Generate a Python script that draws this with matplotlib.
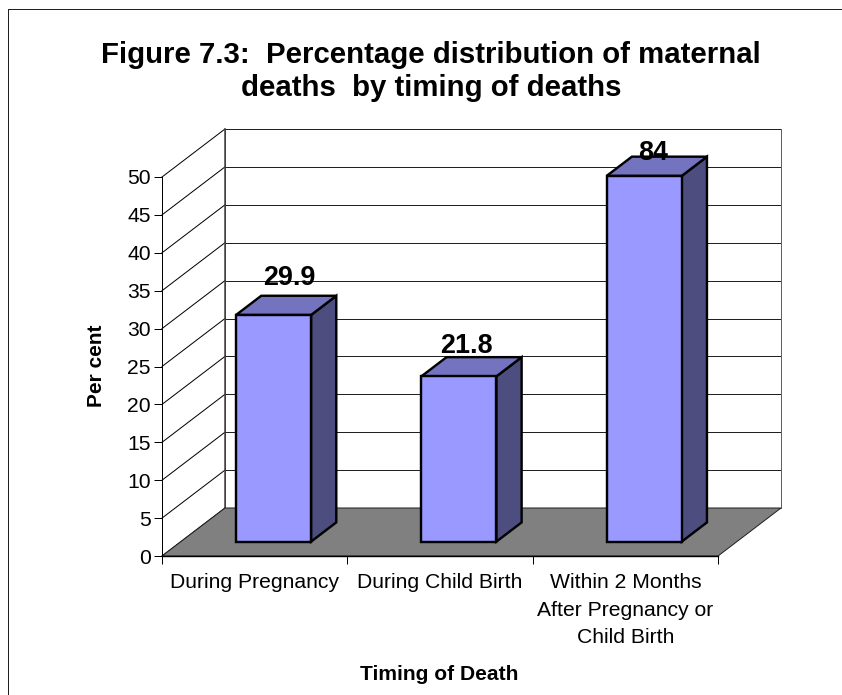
import matplotlib
matplotlib.use('Agg')
import matplotlib.pyplot as plt
from matplotlib.lines import Line2D
from matplotlib.patches import Polygon

title = 'Figure 7.3:  Percentage distribution of maternal\ndeaths  by timing of deaths'
categories = ['During Pregnancy', 'During Child Birth', 'Within 2 Months\nAfter Pregnancy or\nChild Birth']
values = [29.9, 21.8, 84]
y_ticks = [0, 5, 10, 15, 20, 25, 30, 35, 40, 45, 50]
x_ticks = [0, 1, 2, 3]

W, H = 842, 695
fig = plt.figure(figsize=(W / 100, H / 100), dpi=100)
plt.rcParams['font.family'] = ['Liberation Sans']
px = 1 / 100 * 72  # one pixel in points

# front plane of the chart box
ax = fig.add_axes([162 / W, 1 - 556 / H, 556 / W, 379 / H])
ax.set_xlim(0, 3)
ax.set_ylim(0, 50)
ax.patch.set_alpha(0)

# oblique depth of the box, in data units
dx = 63 / (556 / 3)
dy = 48 / (379 / 50)
bar_w = 0.405
d0, d1 = 0.3, 0.7
top_cap = 48.25  # tall bar is cut off here


def pt(x, y, d):
    return (x + d * dx, y + d * dy)


def poly(points, color, lw, ec='black', z=2):
    ax.add_patch(Polygon(points, closed=True, fc=color, ec=ec, lw=lw * px, clip_on=False,
                         zorder=z, joinstyle='miter'))


def line(a, b, color='black', lw=1.0, z=1):
    ax.add_line(Line2D([a[0], b[0]], [a[1], b[1]], color=color, lw=lw * px, clip_on=False, zorder=z))


# walls and floor
poly([pt(0, 0, 1), pt(3, 0, 1), pt(3, 50, 1), pt(0, 50, 1)], 'white', 1.0, ec='#404040', z=0.5)
poly([pt(0, 0, 0), pt(3, 0, 0), pt(3, 0, 1), pt(0, 0, 1)], '#808080', 1.0, ec='#202020', z=1.2)
for t in y_ticks:
    line(pt(0, t, 0), pt(0, t, 1))
    line(pt(0, t, 1), pt(3, t, 1), color='#202020')
line(pt(0, 0, 1), pt(0, 50, 1), color='#404040', lw=1.5)
line(pt(3, 0, 1), pt(3, 50, 1), color='#606060', lw=1.0)

# bars
label_off = [(16, 37), (8, 30), (8.5, 23)]
for i, v in enumerate(values):
    top = min(v, top_cap)
    x0 = i + 0.5 - bar_w / 2
    x1 = i + 0.5 + bar_w / 2
    poly([pt(x1, 0, d0), pt(x1, 0, d1), pt(x1, top, d1), pt(x1, top, d0)], '#4D4D80', 2.4, z=3)
    poly([pt(x0, top, d0), pt(x1, top, d0), pt(x1, top, d1), pt(x0, top, d1)], '#7373BF', 2.4, z=3)
    poly([pt(x0, 0, d0), pt(x1, 0, d0), pt(x1, top, d0), pt(x0, top, d0)], '#9999FF', 2.4, z=3)
    ox, oy = label_off[i]
    ax.annotate(f'{v:g}', xy=pt(i + 0.5, top, d0), xytext=(ox * px, oy * px), textcoords='offset points',
                ha='center', va='center', fontsize=19.4, fontweight='bold', color='black',
                annotation_clip=False, zorder=5)

# axes
for s in ['top', 'right']:
    ax.spines[s].set_visible(False)
ax.spines['left'].set_linewidth(1.0 * px)
ax.spines['bottom'].set_linewidth(1.4 * px)
ax.spines['bottom'].set_zorder(2)
ax.set_yticks(y_ticks)
ax.tick_params(axis='y', length=8 * px, width=1.0 * px, pad=2.2, labelsize=15.2)
ax.set_xticks(x_ticks)
ax.set_xticklabels([])
ax.tick_params(axis='x', which='major', length=8 * px, width=1.0 * px)
ax.set_xticks([0.5, 1.5, 2.5], minor=True)
ax.set_xticklabels(categories, minor=True, fontsize=15.2, linespacing=1.55, va='top')
ax.tick_params(axis='x', which='minor', length=0, pad=12.6)
ax.set_ylabel('Per cent', fontsize=15, fontweight='bold', labelpad=18)
ax.set_xlabel('Timing of Death', fontsize=15.1, fontweight='bold', labelpad=0)
ax.xaxis.set_label_coords((439 - 162) / 556, -(674.5 - 556) / 379, transform=ax.transAxes)
ax.xaxis.label.set_va('center')
ax.yaxis.set_label_coords((96 - 162) / 556, (556 - 366) / 379, transform=ax.transAxes)
ax.yaxis.label.set_va('center')

fig.text(431 / W, 1 - 71.5 / H, title, ha='center', va='center', fontsize=21.15, fontweight='bold', linespacing=1.26)

# chart area border
fig.add_artist(Line2D([7.5 / W, 7.5 / W, 1], [0, 1 - 8.5 / H, 1 - 8.5 / H], color='#202020', lw=1.0 * px))

fig.savefig('out.png', dpi=100, facecolor='white')
